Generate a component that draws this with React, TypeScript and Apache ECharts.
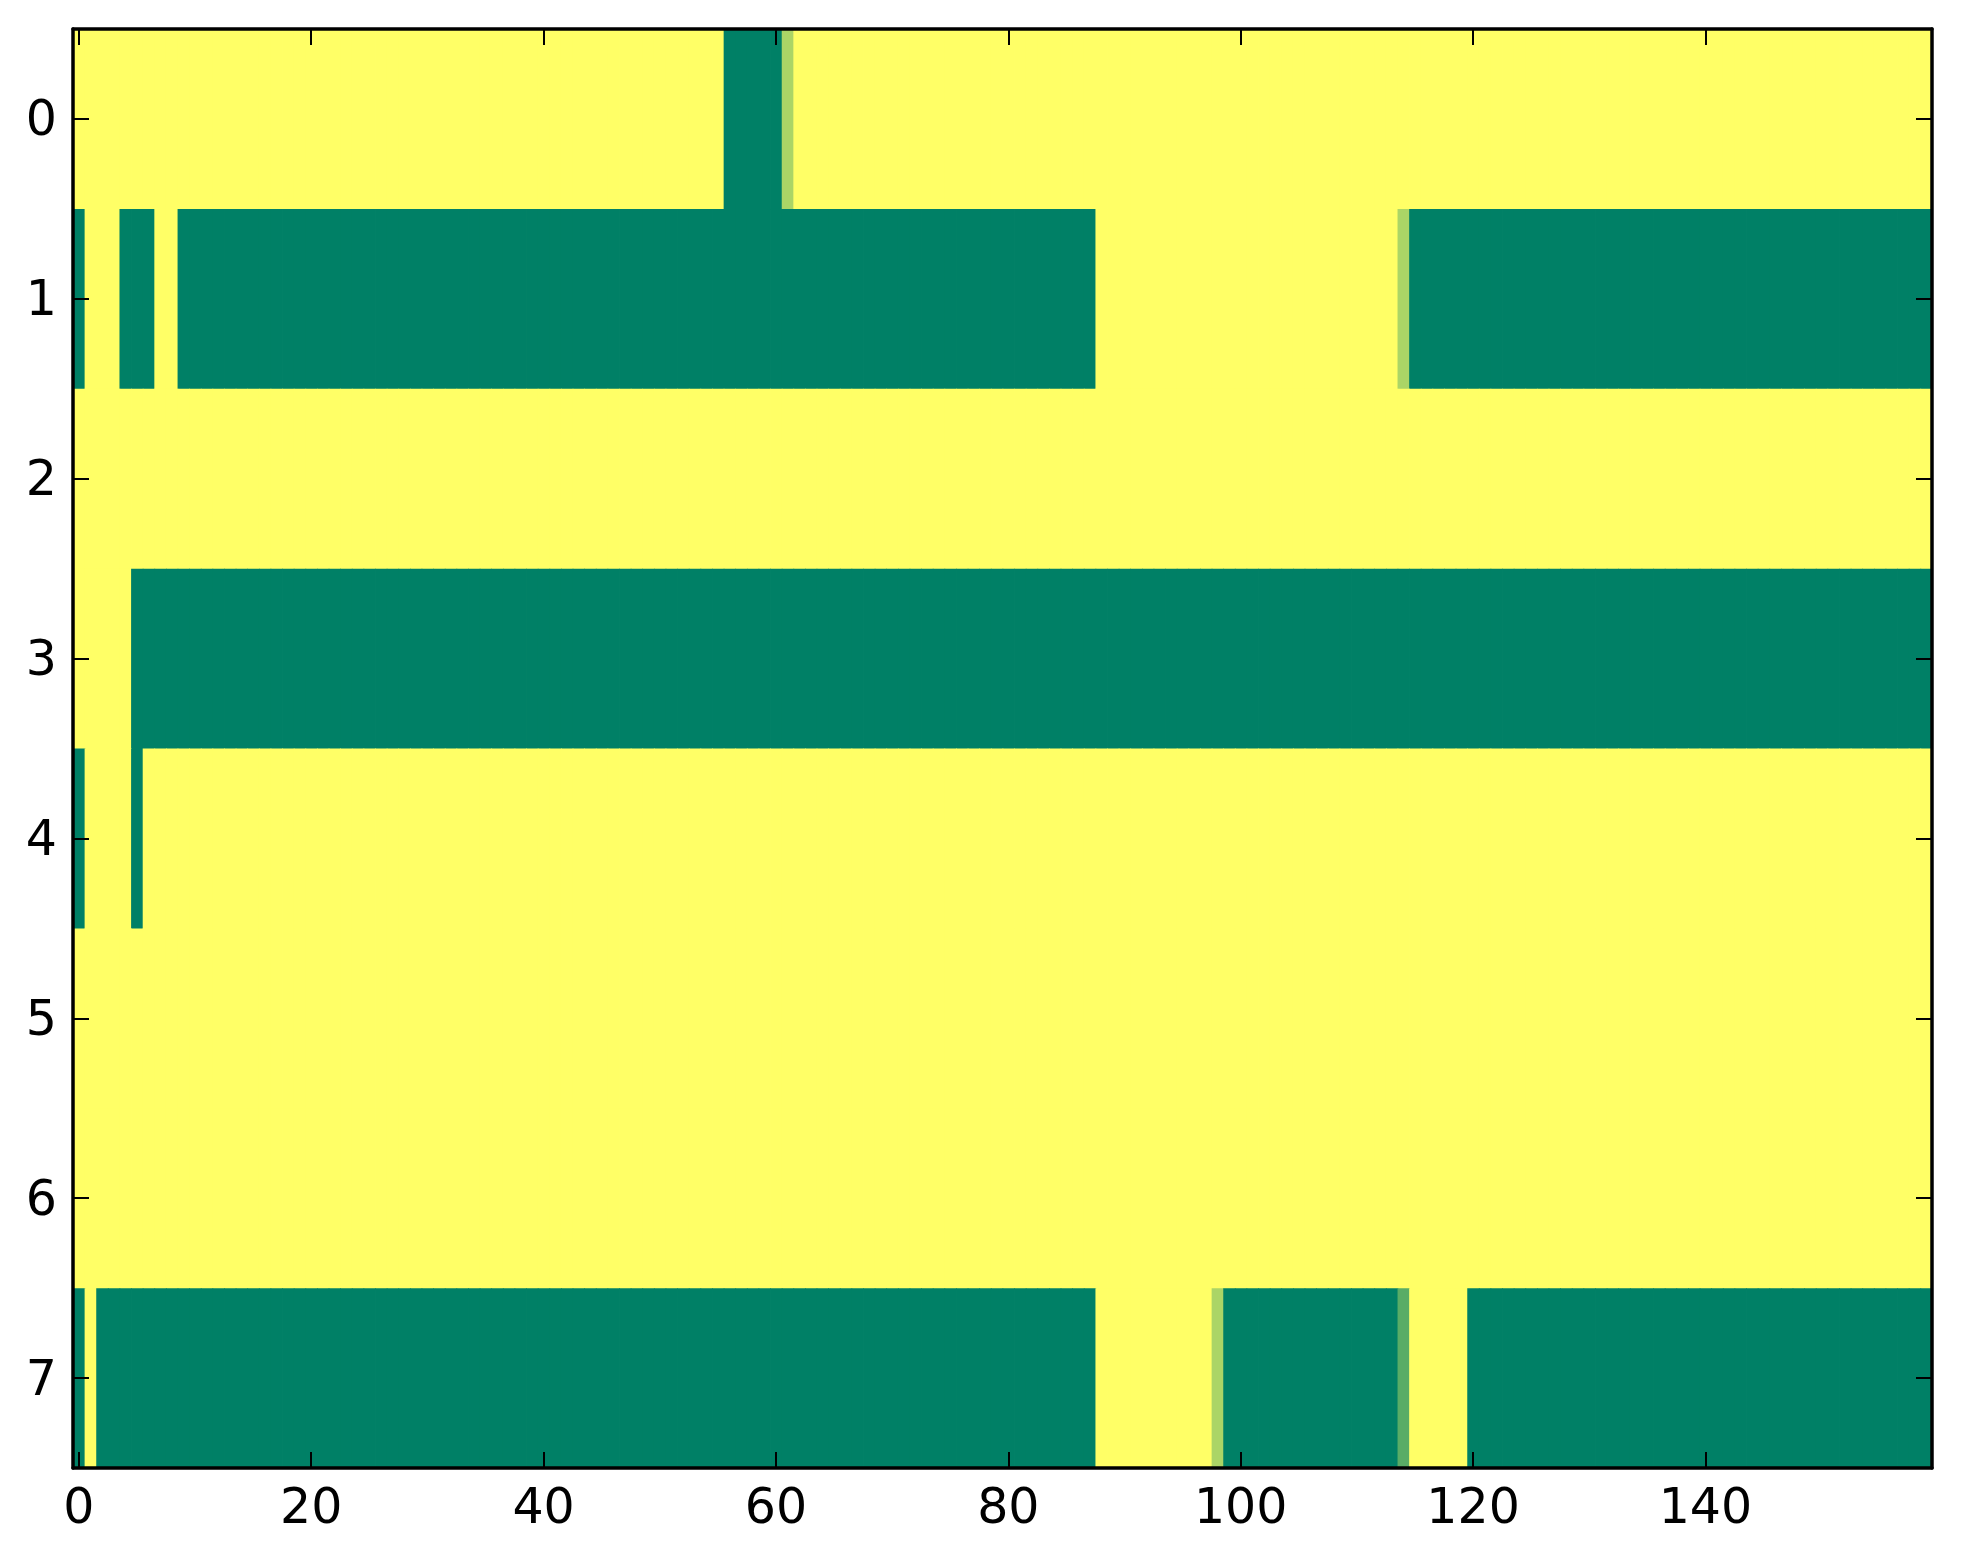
import React, { useEffect, useRef } from "react";
import * as echarts from "echarts";

const row0Runs: [number, number][] = [[1, 56], [0, 5], [0.67, 1], [1, 98]];
const row1Runs: [number, number][] = [[0, 1], [1, 3], [0, 3], [1, 2], [0, 79], [1, 26], [0.67, 1], [0, 45]];
const row2Runs: [number, number][] = [[1, 160]];
const row3Runs: [number, number][] = [[1, 5], [0, 155]];
const row4Runs: [number, number][] = [[0, 1], [1, 4], [0, 1], [1, 154]];
const row5Runs: [number, number][] = [[1, 160]];
const row6Runs: [number, number][] = [[1, 160]];
const row7Runs: [number, number][] = [[0, 1], [1, 1], [0, 86], [1, 10], [0.67, 1], [0, 15], [0.35, 1], [1, 5], [0, 40]];

const rows = [row0Runs, row1Runs, row2Runs, row3Runs, row4Runs, row5Runs, row6Runs, row7Runs];

const columnCount = 160;
const xCategories = Array.from({ length: columnCount }, (_, i) => String(i));
const yCategories = ["0", "1", "2", "3", "4", "5", "6", "7"];
const xTickStep = 20;

// summer colormap end points
const colorLow = "#008066";
const colorHigh = "#ffff66";

function buildCells(): [number, number, number][] {
  const cells: [number, number, number][] = [];
  rows.forEach((runs, r) => {
    let c = 0;
    runs.forEach(([v, n]) => {
      for (let k = 0; k < n; k++) {
        cells.push([c, r, v]);
        c++;
      }
    });
  });
  return cells;
}

export default function App() {
  const ref = useRef<HTMLDivElement>(null);

  useEffect(() => {
    if (!ref.current) return;
    const chart = echarts.init(ref.current, undefined, { renderer: "svg" });
    const font = "DejaVu Sans";
    const axisLine = { show: true, onZero: false, lineStyle: { color: "#000", width: 3.5 } };
    const xTick = {
      show: true,
      inside: true,
      length: 16,
      alignWithLabel: true,
      interval: (i: number) => i % xTickStep === 0,
      lineStyle: { color: "#000", width: 2 },
    };
    const yTick = {
      show: true,
      inside: true,
      length: 16,
      alignWithLabel: true,
      interval: 0,
      lineStyle: { color: "#000", width: 2 },
    };
    chart.setOption({
      animation: false,
      backgroundColor: "#fff",
      grid: { left: 73, top: 29, width: 1859, height: 1439, containLabel: false },
      visualMap: {
        show: false,
        type: "continuous",
        min: 0,
        max: 1,
        dimension: 2,
        seriesIndex: 0,
        inRange: { color: [colorLow, colorHigh] },
      },
      xAxis: [
        {
          type: "category",
          data: xCategories,
          position: "bottom",
          boundaryGap: true,
          z: 10,
          axisLine,
          axisTick: xTick,
          axisLabel: {
            interval: (i: number) => i % xTickStep === 0,
            color: "#000",
            fontSize: 49,
            fontFamily: font,
            margin: 14,
          },
          splitLine: { show: false },
        },
        {
          type: "category",
          data: xCategories,
          position: "top",
          boundaryGap: true,
          z: 10,
          axisLine,
          axisTick: xTick,
          axisLabel: { show: false },
          splitLine: { show: false },
        },
      ],
      yAxis: [
        {
          type: "category",
          data: yCategories,
          inverse: true,
          position: "left",
          boundaryGap: true,
          z: 10,
          axisLine,
          axisTick: yTick,
          axisLabel: {
            interval: 0,
            color: "#000",
            fontSize: 49,
            fontFamily: font,
            margin: 16,
          },
          splitLine: { show: false },
        },
        {
          type: "category",
          data: yCategories,
          inverse: true,
          position: "right",
          boundaryGap: true,
          z: 10,
          axisLine,
          axisTick: yTick,
          axisLabel: { show: false },
          splitLine: { show: false },
        },
      ],
      series: [
        {
          type: "custom",
          xAxisIndex: 0,
          yAxisIndex: 0,
          encode: { x: 0, y: 1 },
          data: buildCells(),
          clip: true,
          z: 1,
          renderItem: (params: any, api: any) => {
            const c = api.coord([api.value(0), api.value(1)]);
            const s = api.size([1, 1]);
            return {
              type: "rect",
              shape: {
                x: c[0] - s[0] / 2,
                y: c[1] - s[1] / 2,
                width: s[0] + 0.8,
                height: s[1] + 0.8,
              },
              style: { fill: api.visual("color") },
            };
          },
        },
      ],
    });
    return () => chart.dispose();
  }, []);

  return (
    <div
      ref={ref}
      style={{ position: "fixed", left: 0, top: 0, width: 1963, height: 1564 }}
    />
  );
}
